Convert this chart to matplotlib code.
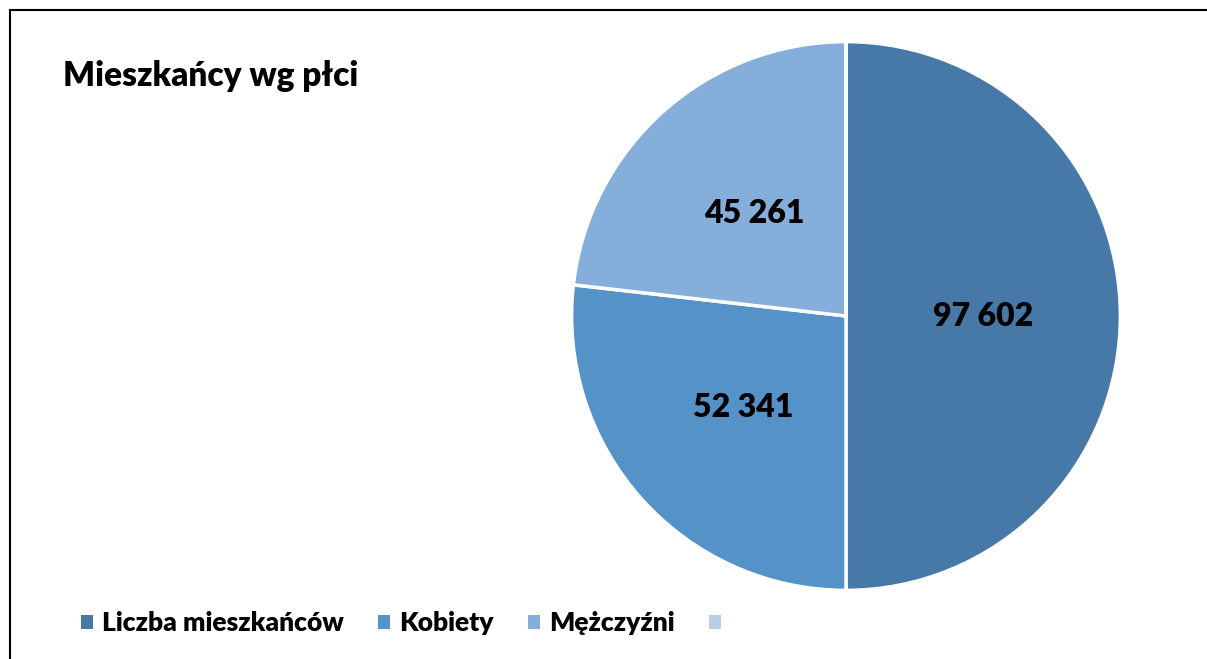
import matplotlib
matplotlib.use("Agg")
import matplotlib.pyplot as plt
from matplotlib.patches import Patch
from matplotlib.lines import Line2D

categories = ["Liczba mieszkańców", "Kobiety", "Mężczyźni", ""]
values = [97602, 52341, 45261, 0]
colors = ["#4779A8", "#5592C8", "#86AEDB", "#B9CDE6"]
title = "Mieszkańcy wg płci"

plt.rcParams['font.family'] = ['Lato', 'DejaVu Sans']

W, H = 1207, 659
fig = plt.figure(figsize=(W / 100, H / 100), dpi=100)
fig.patch.set_facecolor("white")

cx, cy, r = 846, 316, 273
ax = fig.add_axes([(cx - r) / W, (H - cy - r) / H, 2 * r / W, 2 * r / H])

total = sum(values)

def fmt(pct):
    v = int(round(pct * total / 100.0))
    if v == 0:
        return ""
    return f"{v:,}".replace(",", " ")

wedges, texts, autotexts = ax.pie(
    values, colors=colors, startangle=90, counterclock=False,
    autopct=fmt, pctdistance=0.5,
    wedgeprops=dict(edgecolor="white", linewidth=2.5),
    textprops=dict(fontsize=23, fontweight="heavy", color="black"),
)
ax.set_xlim(-0.995, 0.995)
ax.set_ylim(-0.995, 0.995)
ax.set_aspect("equal")
ax.axis("off")

fig.text(63 / W, 1 - 76 / H, title, fontsize=24, fontweight="heavy",
         ha="left", va="center")

handles = [Patch(facecolor=c, edgecolor="none") for c in colors]
fig.legend(handles, categories, loc="center left",
           bbox_to_anchor=(57 / W, 1 - 623 / H), ncol=4, frameon=False,
           handlelength=0.45, handleheight=0.45, handletextpad=0.35,
           columnspacing=1.3, prop=dict(size=19, weight="heavy"))

# frame border
fig.add_artist(Line2D([10 / W, 10 / W], [0, 1 - 10 / H], color="black", lw=1.5,
                      transform=fig.transFigure))
fig.add_artist(Line2D([10 / W, 1], [1 - 10 / H, 1 - 10 / H], color="black", lw=1.5,
                      transform=fig.transFigure))

fig.savefig("out.png", dpi=100)
